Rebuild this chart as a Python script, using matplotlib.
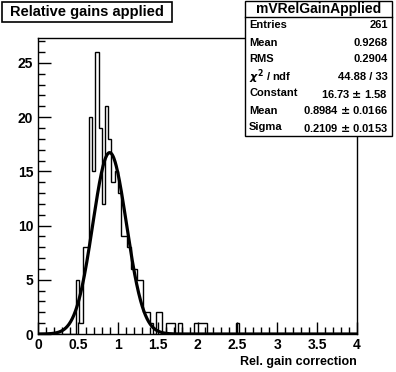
import numpy as np
import matplotlib
matplotlib.use("Agg")
import matplotlib.pyplot as plt
from matplotlib.patches import Rectangle
from matplotlib.ticker import MultipleLocator

plt.rcParams['font.family'] = ['Liberation Sans', 'DejaVu Sans']
plt.rcParams['font.weight'] = 'bold'

# histogram: 100 bins from 0 to 4
n_bins = 100
x_lo, x_hi = 0.0, 4.0
filled_bins = [12, 13, 14, 15, 16, 17, 18, 19, 20, 21, 22, 23, 24, 25, 26, 27, 28,
               29, 30, 31, 32, 33, 34, 35, 37, 38, 40, 41, 42, 44, 49, 50, 51, 52, 62]
bin_counts = [5, 1, 8, 8, 20, 15, 26, 19, 12, 21, 18, 14, 15, 13, 9, 9, 8,
              6, 6, 5, 5, 2, 2, 1, 2, 2, 1, 1, 1, 1, 1, 1, 1, 1, 1]

# gaussian fit results
fit_const = 16.73
fit_mean = 0.8984
fit_sigma = 0.2109

stat_labels = ["Entries", "Mean", "RMS", r"$\chi^2$ / ndf", "Constant", "Mean", "Sigma"]
stat_values = ["261", "0.9268", "0.2904", "44.88 / 33", "16.73 $\\pm$ 1.58",
               "0.8984 $\\pm$ 0.0166", "0.2109 $\\pm$ 0.0153"]

counts = np.zeros(n_bins)
counts[filled_bins] = bin_counts
edges = np.linspace(x_lo, x_hi, n_bins + 1)

W, H = 396, 372
fig = plt.figure(figsize=(W / 100, H / 100), dpi=100)
ax = fig.add_axes([38 / W, 1 - 334 / H, (357 - 38) / W, (334 - 38) / H])

ax.stairs(counts, edges, color='black', lw=1.0)

xf = np.linspace(x_lo, x_hi, 800)
yf = fit_const * np.exp(-0.5 * ((xf - fit_mean) / fit_sigma) ** 2)
ax.plot(xf, yf, color='black', lw=2.3)

ax.set_xlim(x_lo, x_hi)
ax.set_ylim(0, 1.05 * max(bin_counts))
ax.xaxis.set_major_locator(MultipleLocator(0.5))
ax.xaxis.set_minor_locator(MultipleLocator(0.1))
ax.yaxis.set_major_locator(MultipleLocator(5))
ax.yaxis.set_minor_locator(MultipleLocator(1))
ax.xaxis.set_major_formatter(plt.FuncFormatter(lambda v, p: f"{v:g}"))
ax.tick_params(which='both', direction='in', top=False, right=False,
               labelsize=10, width=1)
ax.tick_params(which='major', length=9)
ax.tick_params(which='minor', length=5)
ax.tick_params(axis='x', pad=3)
for s in ax.spines.values():
    s.set_linewidth(1)

fig.text(357 / W, 1 - 362 / H, "Rel. gain correction", ha='right', va='center',
         fontsize=9, fontweight='bold')

# title box
fig.patches.append(Rectangle((2 / W, 1 - 22 / H), 170 / W, 20 / H, transform=fig.transFigure,
                             facecolor='white', edgecolor='black', lw=1.2))
fig.text(87 / W, 1 - 12 / H, "Relative gains applied", ha='center', va='center',
         fontsize=10.5, fontweight='bold')

# stats box
bx0, bx1, by0, by1 = 245, 392, 1, 136
fig.patches.append(Rectangle((bx0 / W, 1 - by1 / H), (bx1 - bx0) / W, (by1 - by0) / H,
                             transform=fig.transFigure, facecolor='white',
                             edgecolor='black', lw=1, zorder=5))
fig.add_artist(plt.Line2D([bx0 / W, bx1 / W], [1 - 17 / H, 1 - 17 / H],
                          transform=fig.transFigure, color='black', lw=1, zorder=6))
fig.text((bx0 + bx1) / 2 / W, 1 - 9 / H, "mVRelGainApplied", ha='center', va='center',
         fontsize=10, fontweight='bold', zorder=7)
row_h = (by1 - 17) / len(stat_labels)
for i, (lab, val) in enumerate(zip(stat_labels, stat_values)):
    yc = 1 - (17 + row_h * (i + 0.5)) / H
    fig.text((bx0 + 4) / W, yc, lab, ha='left', va='center', fontsize=8,
             fontweight='bold', zorder=7)
    fig.text((bx1 - 4) / W, yc, val, ha='right', va='center', fontsize=8,
             fontweight='bold', zorder=7)

fig.savefig("out.png", dpi=100, facecolor='white')
